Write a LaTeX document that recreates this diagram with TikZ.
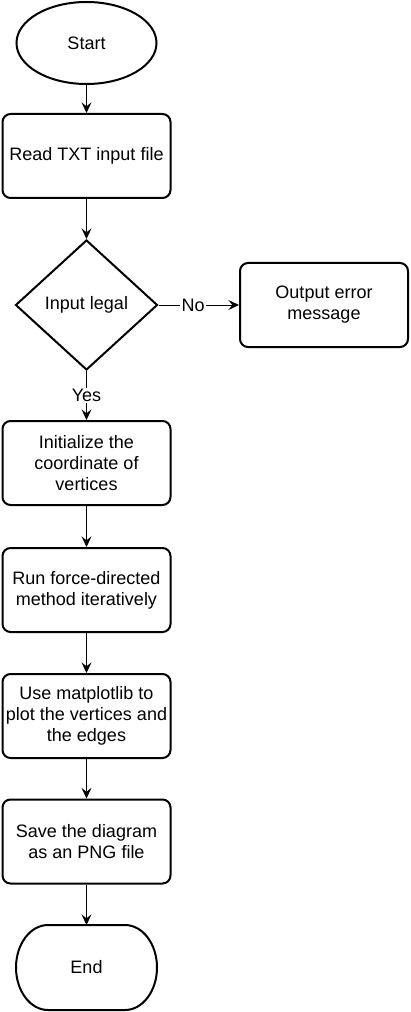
\documentclass[tikz,border=0pt]{standalone}
\usepackage{fontspec}
\setmainfont{Liberation Sans}
\usetikzlibrary{shapes.geometric}
\usetikzlibrary{arrows.meta}

\begin{document}
\begin{tikzpicture}[x=0.75pt, y=-0.75pt,
  font=\fontsize{13.5}{15.75}\selectfont,
  box/.style={draw, line width=1.5pt, rounded corners=6pt, minimum width=126pt, minimum height=63pt, inner sep=0pt, align=center},
  flow/.style={-{Stealth[length=8pt, width=7.5pt, inset=3pt]}, line width=0.75pt},
  lbl/.style={fill=white, inner sep=1pt}]

\useasboundingbox (0,0) rectangle (410,1012);

\node (start) at (86.5,43) [draw, ellipse, line width=1.5pt, minimum width=105pt, minimum height=61.5pt, inner sep=0pt] {Start};
\node (read) at (86.5,156) [box] {Read TXT input file};
\node (legal) at (86.5,305) [draw, diamond, line width=1.5pt, minimum width=106.5pt, minimum height=97.5pt, inner sep=0pt] {Input legal};
\node (err) at (324,305) [box] {Output error\\message};
\node (init) at (86.5,463) [box] {Initialize the\\coordinate of\\vertices};
\node (run) at (86.5,590) [box] {Run force-directed\\method iteratively};
\node (plot) at (86.5,716) [box] {Use matplotlib to\\plot the vertices and\\the edges};
\node (save) at (86.5,841.5) [box] {Save the diagram\\as an PNG file};
\node (end) at (86.5,967.5) [minimum width=105.75pt, minimum height=63.75pt, inner sep=0pt, outer sep=0pt] {End};

\draw[line width=1.5pt] ([xshift=24pt]end.north west) -- ([xshift=-24pt]end.north east)
  arc[start angle=90, end angle=-90, x radius=24pt, y radius=31.875pt]
  -- ([xshift=24pt]end.south west)
  arc[start angle=270, end angle=90, x radius=24pt, y radius=31.875pt] -- cycle;

\draw[flow] (start) -- (read);
\draw[flow] (read) -- (legal);
\draw[flow] (legal) -- node[lbl, pos=0.43] {No} (err);
\draw[flow] (legal) -- node[lbl] {Yes} (init);
\draw[flow] (init) -- (run);
\draw[flow] (run) -- (plot);
\draw[flow] (plot) -- (save);
\draw[flow] (save) -- (end);

\end{tikzpicture}
\end{document}
